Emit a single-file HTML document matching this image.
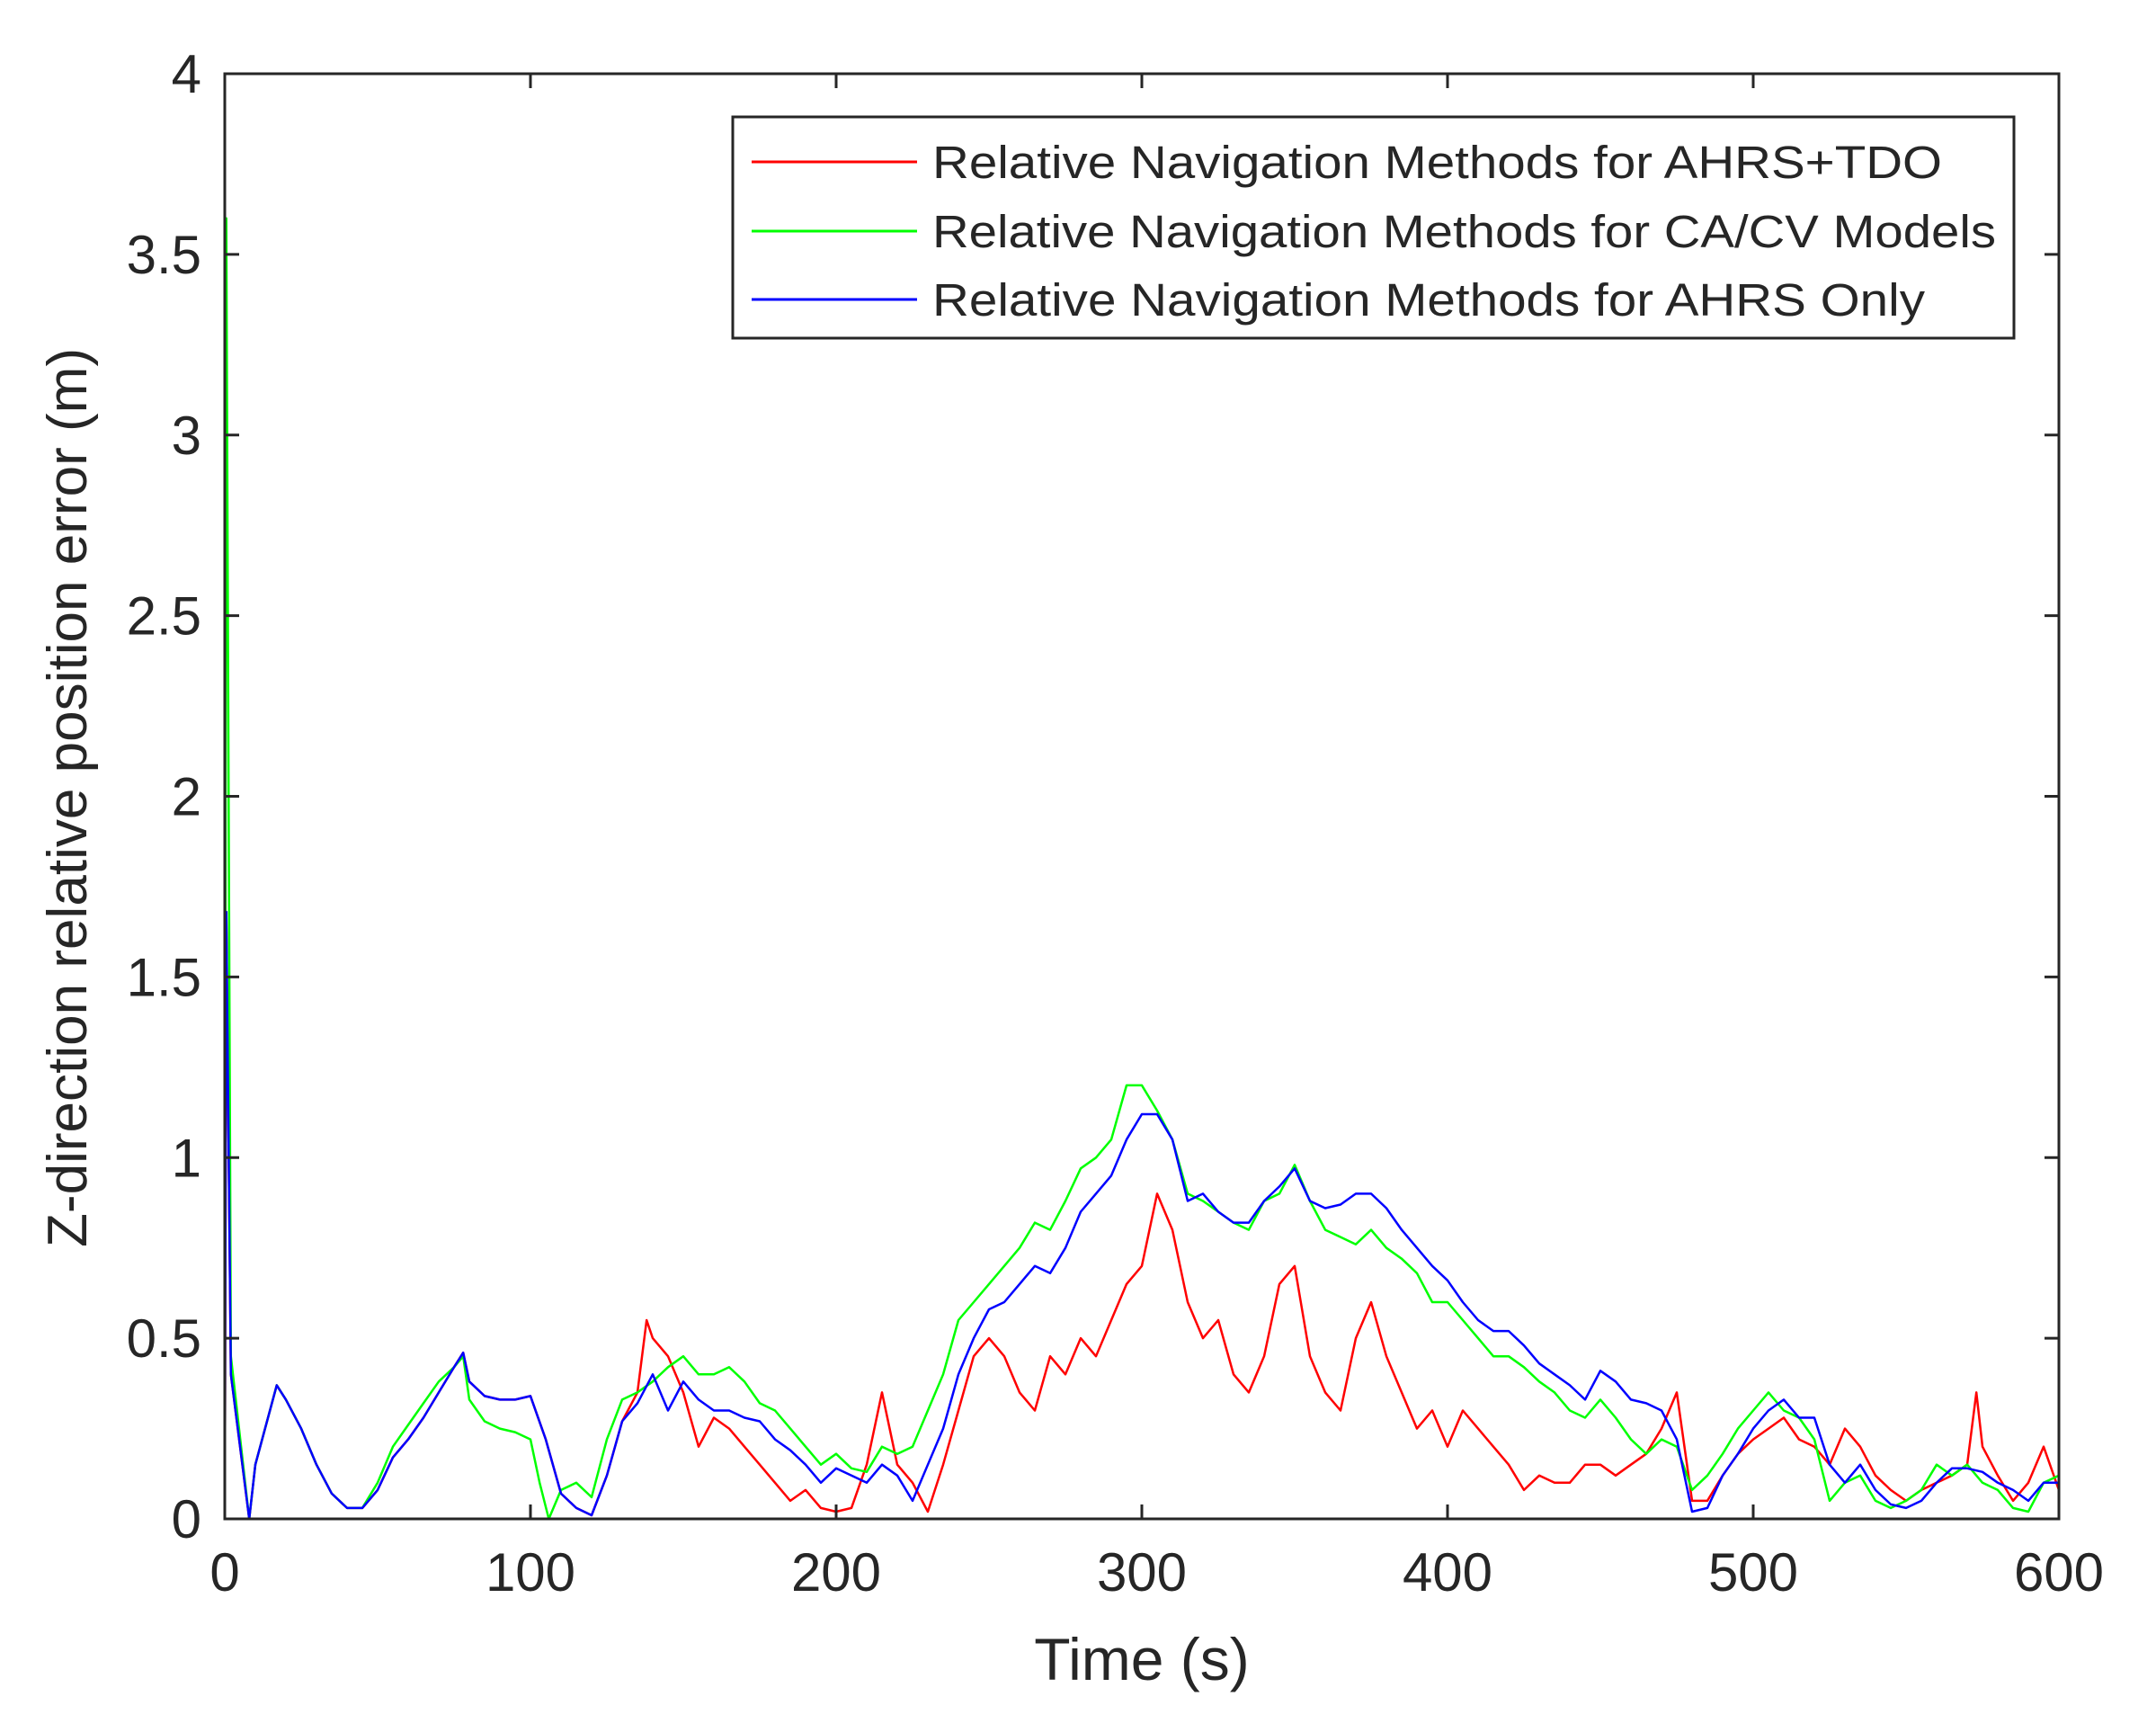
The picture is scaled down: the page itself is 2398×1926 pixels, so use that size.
<!DOCTYPE html>
<html><head><meta charset="utf-8"><style>
html,body{margin:0;padding:0;background:#fff;}
svg{display:block;font-family:"Liberation Sans",Arial,sans-serif;}
</style></head><body>
<svg id="chart" width="2398" height="1926" viewBox="0 0 2398 1926" xmlns="http://www.w3.org/2000/svg">
<rect width="2398" height="1926" fill="#fff"/>
<g id="series"></g>
<g id="axes"></g>
<g id="legend">
<rect x="815" y="130" width="1425" height="246" fill="#fff" stroke="#262626" stroke-width="3"/>
<line x1="836" y1="180" x2="1020" y2="180" stroke="#ff0000" stroke-width="3"/>
<line x1="836" y1="257" x2="1020" y2="257" stroke="#00ff00" stroke-width="3"/>
<line x1="836" y1="333" x2="1020" y2="333" stroke="#0000ff" stroke-width="3"/>
<text x="1037" y="198" font-size="51" fill="#262626" textLength="1123" lengthAdjust="spacingAndGlyphs">Relative Navigation Methods for AHRS+TDO</text>
<text x="1037" y="275" font-size="51" fill="#262626" textLength="1183" lengthAdjust="spacingAndGlyphs">Relative Navigation Methods for CA/CV Models</text>
<text x="1037" y="351" font-size="51" fill="#262626" textLength="1104" lengthAdjust="spacingAndGlyphs">Relative Navigation Methods for AHRS Only</text>
</g>
</svg>
<script>
const xTicks=[0,100,200,300,400,500,600];
const yTicks=[0,0.5,1,1.5,2,2.5,3,3.5,4];
const yTickLabels=["0","0.5","1","1.5","2","2.5","3","3.5","4"];
const blueT=[0,0.5,2,8,10,17,20,25,30,35,40,45,50,55,60,65,70,75,78,80,85,90,95,100,105,110,115,120,125,130,135,140,145,150,155,160,165,170,175,180,185,190,195,200,205,210,215,220,225,230,235,240,245,250,255,260,265,270,275,280,285,290,295,300,305,310,315,320,325,330,335,340,345,350,355,360,365,370,375,380,385,390,395,400,405,410,415,420,425,430,435,440,445,450,455,460,465,470,475,480,485,490,495,500,505,510,515,520,525,530,535,540,545,550,555,560,565,570,575,580,585,590,595,600];
const blueV=[0,1.68,0.4,0,0.15,0.37,0.33,0.25,0.15,0.07,0.03,0.03,0.08,0.17,0.22,0.28,0.35,0.42,0.46,0.38,0.34,0.33,0.33,0.34,0.22,0.07,0.03,0.01,0.12,0.27,0.32,0.4,0.3,0.38,0.33,0.3,0.3,0.28,0.27,0.22,0.19,0.15,0.1,0.14,0.12,0.1,0.15,0.12,0.05,0.15,0.25,0.4,0.5,0.58,0.6,0.65,0.7,0.68,0.75,0.85,0.9,0.95,1.05,1.12,1.12,1.05,0.88,0.9,0.85,0.82,0.82,0.88,0.92,0.97,0.88,0.86,0.87,0.9,0.9,0.86,0.8,0.75,0.7,0.66,0.6,0.55,0.52,0.52,0.48,0.43,0.4,0.37,0.33,0.41,0.38,0.33,0.32,0.3,0.22,0.02,0.03,0.12,0.18,0.25,0.3,0.33,0.28,0.28,0.15,0.1,0.15,0.08,0.04,0.03,0.05,0.1,0.14,0.14,0.13,0.1,0.08,0.05,0.1,0.1];
const greenT=[0,0.5,2,8,10,17,20,25,30,35,40,45,50,55,60,65,70,75,78,80,85,90,95,100,103,106,110,115,120,125,130,135,140,145,150,155,160,165,170,175,180,185,190,195,200,205,210,215,220,225,230,235,240,245,250,255,260,265,270,275,280,285,290,295,300,305,310,315,320,325,330,335,340,345,350,355,360,365,370,375,380,385,390,395,400,405,410,415,420,425,430,435,440,445,450,455,460,465,470,475,480,485,490,495,500,505,510,515,520,525,530,535,540,545,550,555,560,565,570,575,580,585,590,595,600];
const greenV=[0,3.6,0.45,0,0.15,0.37,0.33,0.25,0.15,0.07,0.03,0.03,0.1,0.2,0.26,0.32,0.38,0.42,0.45,0.33,0.27,0.25,0.24,0.22,0.1,0,0.08,0.1,0.06,0.22,0.33,0.35,0.38,0.42,0.45,0.4,0.4,0.42,0.38,0.32,0.3,0.25,0.2,0.15,0.18,0.14,0.13,0.2,0.18,0.2,0.3,0.4,0.55,0.6,0.65,0.7,0.75,0.82,0.8,0.88,0.97,1.0,1.05,1.2,1.2,1.13,1.05,0.9,0.88,0.85,0.82,0.8,0.88,0.9,0.98,0.88,0.8,0.78,0.76,0.8,0.75,0.72,0.68,0.6,0.6,0.55,0.5,0.45,0.45,0.42,0.38,0.35,0.3,0.28,0.33,0.28,0.22,0.18,0.22,0.2,0.08,0.12,0.18,0.25,0.3,0.35,0.3,0.28,0.22,0.05,0.1,0.12,0.05,0.03,0.05,0.08,0.15,0.12,0.15,0.1,0.08,0.03,0.02,0.1,0.12];
const redT=[0,0.5,2,8,10,17,20,25,30,35,40,45,50,55,60,65,70,75,78,80,85,90,95,100,105,110,115,120,125,130,135,138,140,145,150,155,160,165,170,175,180,185,190,195,200,205,210,215,220,225,230,235,240,245,250,255,260,265,270,275,280,285,290,295,300,305,310,315,320,325,330,335,340,345,350,355,360,365,370,375,380,385,390,395,400,405,410,415,420,425,430,435,440,445,450,455,460,465,470,475,480,485,490,495,500,505,510,515,520,525,530,535,540,545,550,555,560,565,570,573,575,580,585,590,595,600];
const redV=[0,1.68,0.4,0,0.15,0.37,0.33,0.25,0.15,0.07,0.03,0.03,0.08,0.17,0.22,0.28,0.35,0.42,0.46,0.38,0.34,0.33,0.33,0.34,0.22,0.07,0.03,0.01,0.12,0.27,0.35,0.55,0.5,0.45,0.35,0.2,0.28,0.25,0.2,0.15,0.1,0.05,0.08,0.03,0.02,0.03,0.15,0.35,0.15,0.1,0.02,0.15,0.3,0.45,0.5,0.45,0.35,0.3,0.45,0.4,0.5,0.45,0.55,0.65,0.7,0.9,0.8,0.6,0.5,0.55,0.4,0.35,0.45,0.65,0.7,0.45,0.35,0.3,0.5,0.6,0.45,0.35,0.25,0.3,0.2,0.3,0.25,0.2,0.15,0.08,0.12,0.1,0.1,0.15,0.15,0.12,0.15,0.18,0.25,0.35,0.05,0.05,0.12,0.18,0.22,0.25,0.28,0.22,0.2,0.15,0.25,0.2,0.12,0.08,0.05,0.08,0.1,0.12,0.15,0.35,0.2,0.12,0.05,0.1,0.2,0.08];

const L=250,R=2290,T=82,B=1689;
const xS=v=>L+(v-0)/(600-0)*(R-L);
const yS=v=>B-(v-0)/(4-0)*(B-T);
const NS='http://www.w3.org/2000/svg';
const series=document.getElementById('series');
const axes=document.getElementById('axes');
function mk(tag,parent){const e=document.createElementNS(NS,tag);parent.appendChild(e);return e;}

function drawLine(ts,vs,color,name){
  const p=mk('polyline',series);
  p.setAttribute('points',ts.map((t,i)=>xS(t).toFixed(1)+','+yS(vs[i]).toFixed(1)).join(' '));
  p.setAttribute('fill','none');p.setAttribute('stroke',color);p.setAttribute('stroke-width','2.5');
  p.setAttribute('stroke-linejoin','round');
  
  
}
drawLine(redT,redV,'#ff0000','series-ahrs-tdo');
drawLine(greenT,greenV,'#00ff00','series-ca-cv');
drawLine(blueT,blueV,'#0000ff','series-ahrs-only');

const box=mk('rect',axes);
box.setAttribute('x',L);box.setAttribute('y',T);box.setAttribute('width',R-L);box.setAttribute('height',B-T);
box.setAttribute('fill','none');box.setAttribute('stroke','#262626');box.setAttribute('stroke-width','3');



xTicks.forEach(v=>{
  const x=xS(v);
  [[B,B-16],[T,T+16]].forEach(([a,b])=>{
    const l=mk('line',axes);l.setAttribute('x1',x);l.setAttribute('x2',x);l.setAttribute('y1',a);l.setAttribute('y2',b);
    l.setAttribute('stroke','#262626');l.setAttribute('stroke-width','3');
    
    
  });
  const t=mk('text',axes);t.setAttribute('x',x);t.setAttribute('y',B+80);t.setAttribute('text-anchor','middle');
  t.setAttribute('font-size','60');t.setAttribute('fill','#262626');t.textContent=String(v);
  
  
});
yTicks.forEach((v,i)=>{
  const y=yS(v);
  [[L,L+16],[R,R-16]].forEach(([a,b])=>{
    const l=mk('line',axes);l.setAttribute('y1',y);l.setAttribute('y2',y);l.setAttribute('x1',a);l.setAttribute('x2',b);
    l.setAttribute('stroke','#262626');l.setAttribute('stroke-width','3');
    
    
  });
  const t=mk('text',axes);t.setAttribute('x',L-26);t.setAttribute('y',y+21);t.setAttribute('text-anchor','end');
  t.setAttribute('font-size','60');t.setAttribute('fill','#262626');t.textContent=yTickLabels[i];
  
  
});
const xt=mk('text',axes);xt.setAttribute('x',(L+R)/2);xt.setAttribute('y',1868);xt.setAttribute('text-anchor','middle');
xt.setAttribute('font-size','66');xt.setAttribute('fill','#262626');xt.textContent='Time (s)';


const yt=mk('text',axes);yt.setAttribute('transform','translate(96,887) rotate(-90)');yt.setAttribute('text-anchor','middle');
yt.setAttribute('font-size','62');yt.setAttribute('fill','#262626');yt.textContent='Z-direction relative position error (m)';
yt.setAttribute('textLength','1000');yt.setAttribute('lengthAdjust','spacingAndGlyphs');


</script>
</body></html>
